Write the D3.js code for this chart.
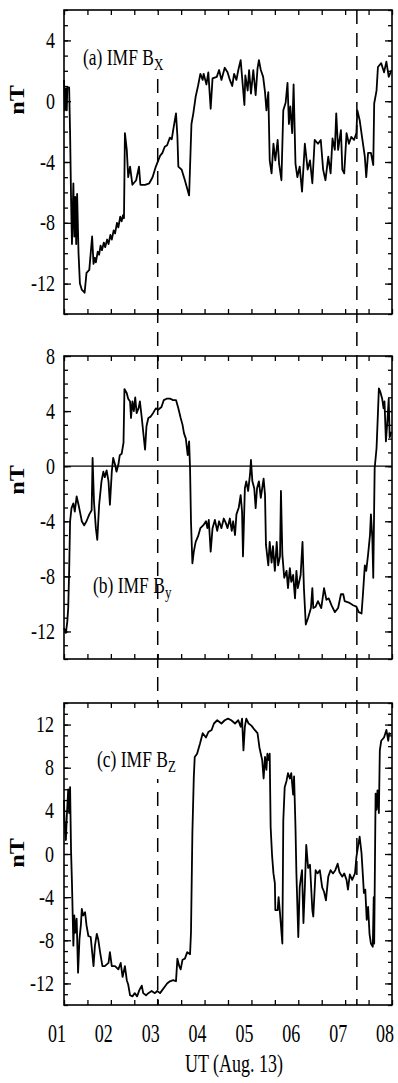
<!DOCTYPE html>
<html><head><meta charset="utf-8">
<script src="https://cdn.jsdelivr.net/npm/d3@7"></script>
<style>
html,body{margin:0;padding:0;background:#fff;}
svg{display:block;font-family:"Liberation Serif","Times New Roman",serif;}
</style></head>
<body>
<svg id="chart" width="398" height="1083"></svg>
<script>
// ---------- data (UT hours on Aug. 13, values in nT) ----------
const bxTime = [1.00,1.02,1.04,1.06,1.07,1.11,1.13,1.15,1.17,1.20,1.22,1.24,1.26,1.28,1.31,1.34,1.38,1.44,1.48,1.54,1.60,1.63,1.66,1.68,1.72,1.75,1.78,1.81,1.85,1.88,1.92,1.95,1.99,2.02,2.06,2.09,2.13,2.16,2.20,2.23,2.26,2.28,2.30,2.34,2.37,2.41,2.46,2.54,2.60,2.63,2.73,2.82,2.89,2.96,3.05,3.10,3.15,3.20,3.26,3.30,3.33,3.39,3.42,3.44,3.51,3.58,3.67,3.72,3.76,3.81,3.86,3.91,3.96,3.98,4.04,4.08,4.13,4.17,4.26,4.31,4.36,4.43,4.49,4.54,4.59,4.63,4.68,4.72,4.77,4.80,4.85,4.87,4.92,4.95,4.99,5.04,5.09,5.13,5.16,5.20,5.25,5.29,5.32,5.36,5.39,5.43,5.47,5.51,5.56,5.59,5.64,5.68,5.73,5.77,5.80,5.83,5.87,5.90,5.94,5.98,6.03,6.08,6.14,6.20,6.25,6.30,6.35,6.42,6.48,6.53,6.58,6.64,6.69,6.73,6.78,6.81,6.85,6.91,6.94,6.98,7.03,7.08,7.13,7.19,7.24,7.26,7.31,7.36,7.42,7.45,7.49,7.55,7.60,7.62,7.67,7.70,7.77,7.83,7.88,7.93,7.99];
const bxValues = [1.4,-0.6,0.85,-0.6,0.9,0.9,-2.1,-6.3,-9.4,-5.4,-8.9,-6.3,-9.4,-6.1,-10.0,-12.0,-12.4,-12.6,-11.3,-11.1,-8.9,-10.7,-10.3,-10.6,-9.9,-10.1,-9.5,-9.8,-9.3,-9.6,-9.1,-9.4,-8.8,-9.1,-8.5,-8.7,-8.0,-8.3,-7.6,-7.9,-7.5,-7.7,-2.1,-3.2,-5.0,-4.3,-5.5,-5.2,-4.3,-5.5,-5.5,-5.4,-5.0,-4.3,-3.6,-3.4,-3.0,-2.9,-2.4,-2.5,-1.9,-0.8,-2.3,-4.3,-4.5,-5.2,-6.2,-1.5,-0.8,0.3,1.0,1.8,1.4,1.8,1.1,1.9,-0.5,1.5,1.6,2.05,1.4,2.2,1.9,1.4,1.0,1.8,1.4,2.05,2.7,1.6,-0.25,1.7,0.7,2.05,0.5,2.05,0.4,2.15,2.7,2.05,1.6,0.6,-0.6,0.6,-3.9,-4.75,-2.8,-3.9,-2.55,-4.1,-5.2,-0.6,-0.1,1.2,-1.5,-0.35,-2.1,1.1,-4.1,-5.0,-4.3,-5.95,-2.8,-4.5,-3.9,-5.4,-2.55,-2.8,-2.55,-4.5,-5.2,-3.65,-4.75,-2.45,-3.2,-0.8,-3.2,-1.9,-4.5,-4.75,-2.1,-2.8,-2.35,-2.55,-2.1,-0.6,-1.25,-2.35,-3.65,-5.0,-3.4,-3.4,-4.2,-0.15,0.7,2.25,2.5,1.9,2.6,1.6,2.05];

const byTime = [1.00,1.04,1.07,1.09,1.11,1.13,1.16,1.20,1.23,1.27,1.31,1.34,1.38,1.43,1.48,1.54,1.59,1.61,1.64,1.68,1.71,1.75,1.80,1.84,1.87,1.91,1.95,1.98,2.02,2.05,2.09,2.12,2.16,2.19,2.23,2.27,2.29,2.34,2.37,2.41,2.43,2.46,2.49,2.52,2.55,2.59,2.62,2.66,2.69,2.73,2.76,2.80,2.85,2.90,2.96,3.01,3.08,3.13,3.19,3.26,3.33,3.39,3.44,3.49,3.53,3.56,3.60,3.64,3.67,3.69,3.71,3.74,3.77,3.81,3.86,3.91,3.97,4.03,4.06,4.09,4.13,4.17,4.22,4.27,4.31,4.36,4.41,4.45,4.49,4.54,4.58,4.61,4.65,4.68,4.73,4.77,4.80,4.82,4.86,4.89,4.93,4.97,4.99,5.02,5.06,5.09,5.12,5.16,5.20,5.23,5.26,5.29,5.31,5.36,5.39,5.43,5.46,5.50,5.54,5.57,5.61,5.63,5.66,5.70,5.75,5.78,5.82,5.85,5.89,5.93,5.96,5.99,6.05,6.09,6.12,6.16,6.21,6.27,6.30,6.32,6.37,6.42,6.49,6.55,6.60,6.65,6.71,6.78,6.85,6.91,6.96,6.99,7.08,7.17,7.24,7.29,7.35,7.38,7.42,7.45,7.49,7.53,7.55,7.58,7.60,7.63,7.67,7.69,7.72,7.75,7.79,7.82,7.84,7.87,7.90,7.93,7.95,7.99];
const byValues = [-11.75,-12.1,-11.3,-10.3,-7.6,-4.0,-3.05,-2.7,-3.3,-2.2,-2.8,-3.3,-4.0,-4.3,-4.0,-3.5,-3.2,0.6,-2.6,-4.5,-5.35,-2.8,-1.1,-0.4,-0.8,-0.3,-1.1,-2.8,-0.4,0.6,0.1,-0.4,0.1,0.8,0.9,1.7,5.6,5.3,4.9,4.7,3.5,4.7,4.0,5.0,3.85,4.2,4.7,3.5,2.5,1.2,2.9,3.5,3.6,3.85,4.2,4.1,4.3,4.8,4.9,4.9,4.8,4.8,4.2,3.5,3.0,2.4,2.0,0.8,1.8,-0.15,-4.0,-7.05,-6.2,-5.5,-5.1,-4.5,-4.3,-4.0,-4.5,-3.9,-6.2,-4.5,-3.9,-4.7,-4.0,-4.5,-3.8,-4.1,-4.5,-3.8,-4.7,-4.0,-5.0,-3.5,-3.0,-2.1,-3.3,-6.55,-1.6,-1.1,-1.8,-0.6,0.45,-1.1,-1.6,-3.05,-1.6,-1.1,-2.3,-1.6,-0.9,-2.1,-5.7,-7.2,-5.5,-7.0,-5.8,-7.6,-5.5,-7.2,-6.55,-1.8,-6.4,-8.1,-7.6,-8.85,-7.4,-8.4,-7.9,-9.6,-7.6,-8.85,-7.9,-5.5,-8.85,-11.5,-11.0,-10.3,-8.85,-10.3,-10.2,-9.8,-10.3,-8.85,-9.7,-9.6,-10.1,-10.6,-10.3,-9.3,-9.3,-9.8,-9.9,-10.1,-10.2,-10.6,-10.7,-9.3,-7.2,-7.6,-6.4,-5.0,-3.5,-5.2,-8.1,-0.15,1.3,3.0,5.65,5.4,4.9,4.2,4.7,1.8,3.2,4.9,2.1,2.5];

const bzTime = [1.00,1.01,1.04,1.06,1.09,1.11,1.13,1.15,1.17,1.18,1.20,1.22,1.24,1.27,1.30,1.33,1.36,1.38,1.41,1.45,1.48,1.52,1.57,1.63,1.66,1.70,1.73,1.77,1.82,1.87,1.95,1.98,2.02,2.09,2.16,2.21,2.25,2.30,2.34,2.37,2.41,2.46,2.51,2.56,2.61,2.66,2.69,2.75,2.80,2.87,2.94,2.99,3.05,3.10,3.15,3.20,3.26,3.33,3.39,3.42,3.46,3.49,3.53,3.58,3.63,3.69,3.71,3.74,3.77,3.79,3.84,3.90,3.96,4.03,4.08,4.15,4.20,4.27,4.36,4.43,4.50,4.57,4.65,4.72,4.77,4.80,4.83,4.86,4.89,4.94,5.00,5.07,5.13,5.17,5.20,5.23,5.26,5.29,5.32,5.34,5.37,5.39,5.41,5.44,5.47,5.50,5.51,5.56,5.58,5.61,5.66,5.68,5.71,5.75,5.78,5.82,5.85,5.89,5.91,5.94,5.96,6.00,6.03,6.05,6.08,6.11,6.14,6.17,6.21,6.25,6.30,6.32,6.37,6.41,6.46,6.51,6.55,6.59,6.64,6.69,6.74,6.79,6.84,6.88,6.94,6.98,7.03,7.06,7.10,7.15,7.21,7.24,7.28,7.31,7.35,7.38,7.40,7.43,7.46,7.49,7.52,7.55,7.59,7.61,7.62,7.65,7.67,7.69,7.72,7.74,7.77,7.83,7.88,7.92,7.94,7.99];
const bzValues = [5.0,3.1,1.3,3.5,6.0,3.8,6.2,0.35,-2.7,-4.6,-8.5,-5.7,-7.3,-6.0,-11.0,-7.9,-6.6,-5.1,-5.7,-5.4,-6.6,-7.6,-7.7,-10.4,-8.5,-7.4,-7.9,-9.1,-10.4,-10.4,-10.1,-9.1,-10.4,-10.4,-10.7,-10.1,-11.4,-10.4,-11.7,-12.1,-13.1,-13.2,-12.9,-13.2,-12.6,-12.2,-12.9,-13.1,-12.9,-12.7,-12.9,-12.7,-12.9,-12.6,-12.3,-12.0,-11.8,-11.7,-11.8,-9.7,-10.4,-10.7,-9.8,-9.7,-9.1,-9.3,-7.3,2.0,7.1,9.0,9.3,10.2,11.2,10.8,11.3,11.5,12.1,12.4,12.1,12.4,12.55,12.4,12.1,12.4,11.8,12.55,9.6,11.8,12.55,12.1,11.9,11.5,11.2,9.9,9.3,8.7,7.0,9.0,7.8,9.3,8.7,9.3,2.5,-0.1,-1.8,-2.7,-5.2,-5.2,-4.0,-5.5,-8.3,3.1,6.2,6.8,7.5,7.0,7.5,5.5,7.2,2.5,-1.8,-7.7,-3.1,-2.4,-1.5,-6.4,-3.1,0.85,-1.3,-1.0,-5.2,-5.8,-1.5,-1.8,-1.5,-3.1,-3.5,-4.3,-2.1,-1.5,-1.8,-1.5,-0.9,-1.7,-2.1,-1.8,-2.4,-3.3,-1.9,-2.4,-1.8,-0.3,0.85,1.6,0.05,-2.1,-3.6,-3.3,-6.1,-4.9,-7.4,-8.3,-8.6,-4.0,-8.3,5.6,4.1,5.9,3.8,9.6,10.5,10.8,11.5,10.5,11.2,11.1];

const hourLabels = ["01","02","03","04","05","06","07","08"];
const hourTicks = [1,2,3,4,5,6,7,8];
const eventTimes = [3.0, 7.25];
const panelNames = [["(a) IMF B","X"],["(b) IMF B","y"],["(c) IMF B","Z"]];
const yDomains = [[-14,6],[-14,8],[-14,14]];
const yLabelTicks = [[4,0,-4,-8,-12],[8,4,0,-4,-8,-12],[12,8,4,0,-4,-8,-12]];

// ---------- layout ----------
const svg = d3.select("#chart");
const L = 64, R = 392;
const panels = [
  {top:10, bottom:314, t:bxTime, v:bxValues, lab:[83,65], nT:100, tickX:55},
  {top:356, bottom:659, t:byTime, v:byValues, lab:[93,593], nT:480, tickX:55, zero:true},
  {top:703, bottom:1005, t:bzTime, v:bzValues, lab:[97,767], nT:853, tickX:54}
];
const x = d3.scaleLinear().domain([1,8]).range([L,R]);
const halfHours = d3.range(1, 8.01, 0.5);

function stext(g, px, py, str, size, anchor, sy, weight) {
  return g.append("text")
    .attr("transform", `translate(${px},${py}) scale(1,${sy})`)
    .attr("text-anchor", anchor)
    .style("font-size", size + "px")
    .style("font-weight", weight || "normal")
    .attr("fill", "#000")
    .text(str);
}

// dashed event lines (drawn first so panel labels can mask them)
eventTimes.forEach(et => {
  svg.append("line")
    .attr("x1", x(et)).attr("x2", x(et))
    .attr("y1", 10).attr("y2", 1005)
    .attr("stroke", "#000").attr("stroke-width", 1.5)
    .attr("stroke-dasharray", "14,9");
});

panels.forEach((p, i) => {
  const y = d3.scaleLinear().domain(yDomains[i]).range([p.bottom, p.top]);
  const g = svg.append("g");
  const ints = d3.range(yDomains[i][0], yDomains[i][1] + 0.01, 1);

  // label masks for panels (a) and (c)
  if (i === 0) g.append("rect").attr("x", 78).attr("y", 11).attr("width", 94).attr("height", 59).attr("fill", "#fff");
  if (i === 2) g.append("rect").attr("x", 92).attr("y", 704).attr("width", 90).attr("height", 75).attr("fill", "#fff");

  // zero line
  if (p.zero) {
    g.append("line").attr("x1", L).attr("x2", R).attr("y1", y(0)).attr("y2", y(0))
      .attr("stroke", "#000").attr("stroke-width", 1.3);
  }

  // axes ticks (inward)
  const axes = [
    [d3.axisBottom(x).tickValues(halfHours).tickSize(-5), `translate(0,${p.bottom})`],
    [d3.axisTop(x).tickValues(halfHours).tickSize(-5), `translate(0,${p.top})`],
    [d3.axisLeft(y).tickValues(ints).tickSize(-4), `translate(${L},0)`],
    [d3.axisRight(y).tickValues(ints).tickSize(-4), `translate(${R},0)`],
    [d3.axisLeft(y).tickValues(yLabelTicks[i]).tickSize(-7), `translate(${L},0)`],
    [d3.axisRight(y).tickValues(yLabelTicks[i]).tickSize(-7), `translate(${R},0)`]
  ];
  axes.forEach(([ax, tr]) => {
    const a = g.append("g").attr("transform", tr).call(ax.tickFormat(""));
    a.select(".domain").remove();
    a.selectAll("line").attr("stroke", "#000").attr("stroke-width", 1.3);
  });

  // data line
  const pts = p.t.map((t, k) => [t, p.v[k]]);
  g.append("path").datum(pts)
    .attr("fill", "none").attr("stroke", "#000").attr("stroke-width", 1.8)
    .attr("stroke-linejoin", "round")
    .attr("d", d3.line().x(d => x(d[0])).y(d => y(d[1])));

  // frame
  g.append("rect").attr("x", L).attr("y", p.top).attr("width", R - L).attr("height", p.bottom - p.top)
    .attr("fill", "none").attr("stroke", "#000").attr("stroke-width", 1.6);

  // y tick labels
  yLabelTicks[i].forEach(v => stext(g, p.tickX, y(v) + 7.6, String(v), 18, "end", 1.25));

  // nT label
  g.append("text")
    .attr("transform", `translate(24,${p.nT}) rotate(-90) scale(1.15,1)`)
    .attr("text-anchor", "middle")
    .style("font-size", "21px").style("font-weight", "bold")
    .text("nT");

  // panel label with subscript
  const t = stext(g, p.lab[0], p.lab[1], "", 17.5, "start", 1.28);
  t.append("tspan").text(panelNames[i][0]);
  t.append("tspan").attr("dy", 4).style("font-size", "13px").text(panelNames[i][1]);
});

// x tick labels
hourTicks.forEach((h, k) => stext(svg, x(h) - 7, 1042, hourLabels[k], 18, "middle", 1.4));
stext(svg, 234, 1072, "UT (Aug. 13)", 18, "middle", 1.35);
</script>
</body></html>
